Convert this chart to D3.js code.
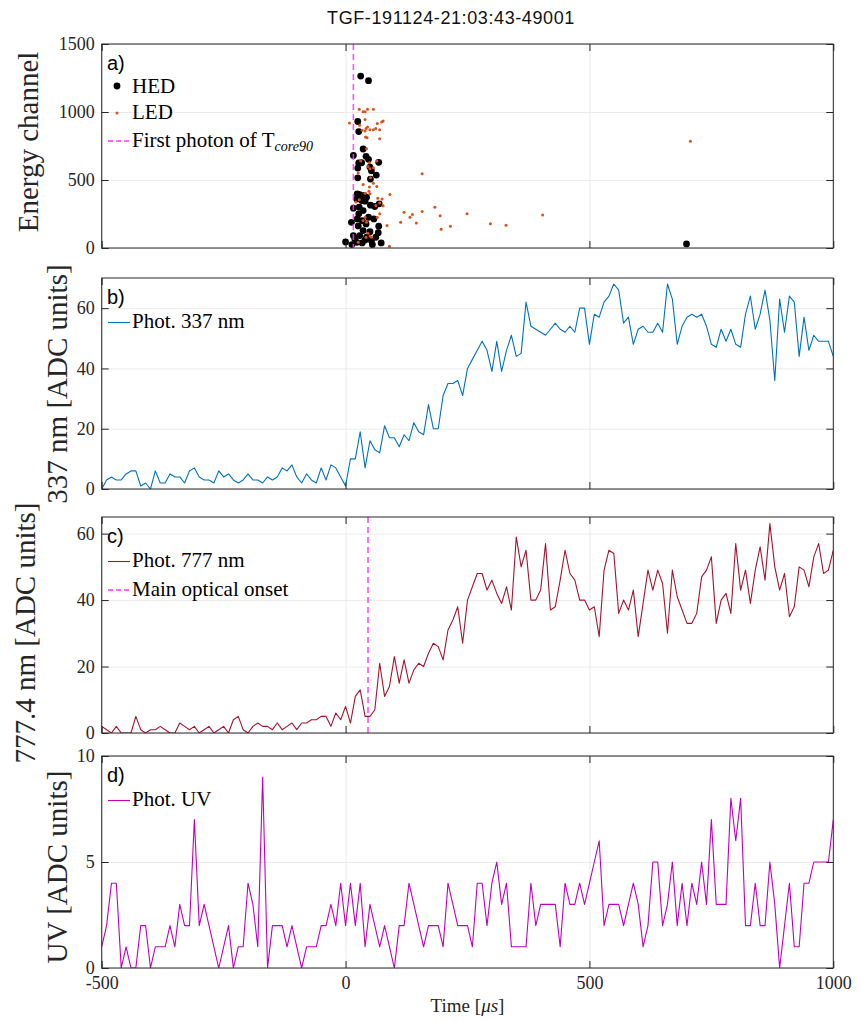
<!DOCTYPE html>
<html>
<head>
<meta charset="utf-8">
<script src="https://cdn.jsdelivr.net/npm/d3@7"></script>
<style>
  body { margin: 0; background: #fff; }
  svg { display: block; }
</style>
</head>
<body>
<div id="chart"></div>
<script>
// sample times of the photometer traces [us]
const time = [
  -500,-490,-480,-470,-460,-450,-440,-430,-420,-410,
  -400,-390,-380,-370,-360,-350,-340,-330,-320,-310,
  -300,-290,-280,-270,-260,-250,-240,-230,-220,-210,
  -200,-190,-180,-170,-160,-150,-140,-130,-120,-110,
  -100,-90,-80,-70,-60,-50,-40,-30,-20,-10,
  0,10,20,30,40,50,60,70,80,90,
  100,110,120,130,140,150,160,170,180,190,
  200,210,220,230,240,250,260,270,280,290,
  300,310,320,330,340,350,360,370,380,390,
  400,410,420,430,440,450,460,470,480,490,
  500,510,520,530,540,550,560,570,580,590,
  600,610,620,630,640,650,660,670,680,690,
  700,710,720,730,740,750,760,770,780,790,
  800,810,820,830,840,850,860,870,880,890,
  900,910,920,930,940,950,960,970,980,990,
  1000
];

const phot337 = [
  0,3,4,3,3,5,6,6,1,2,
  0,6,2,2,5,4,4,2,6,7,
  4,3,3,2,6,4,5,3,2,3,
  5,3,3,2,4,3,4,7,6,8,
  4,2,5,3,2,7,3,8,7,4,
  1,10,10,19,7,16,13,12,21,17,
  17,14,18,16,22,19,18,28,20,20,
  31,35,35,36,31,40,43,46,49,46,
  39,49,39,46,51,44,45,62,54,53,
  52,51,53,55,53,52,54,52,60,60,
  48,58,57,62,64,68,66,55,57,48,
  53,54,52,52,55,52,68,63,48,54,
  57,58,57,58,54,48,47,53,49,53,
  48,47,58,64,53,58,66,56,36,63,
  52,64,62,44,57,46,51,49,49,49,
  44
];

const phot777 = [
  2,1,0,2,0,0,0,5,1,0,
  1,1,2,1,0,0,3,2,1,2,
  0,1,2,0,1,2,0,4,5,1,
  0,2,3,2,2,1,3,1,2,3,
  1,3,3,4,4,5,5,2,6,4,
  8,3,11,13,5,5,7,21,11,14,
  23,15,22,15,19,21,20,24,27,26,
  22,31,34,38,27,40,44,48,48,43,
  46,42,39,44,37,59,50,55,40,40,
  43,57,37,38,46,55,48,46,40,40,
  37,38,29,49,55,54,36,40,37,43,
  29,39,49,43,49,45,30,49,41,37,
  33,33,36,47,49,53,33,40,42,36,
  57,43,49,39,49,56,46,63,50,43,
  48,35,38,50,49,44,53,57,48,49,
  55
];

const photUV = [
  1,2,4,4,0,1,0,0,2,2,
  0,1,1,1,2,1,3,2,2,7,
  2,3,2,1,0,1,2,0,1,1,
  4,3,1,9,0,2,2,2,1,2,
  1,0,1,1,1,2,2,3,2,4,
  2,4,2,4,1,3,2,1,2,1,
  0,2,2,4,3,2,1,2,2,2,
  1,4,3,2,2,2,1,4,4,2,
  4,5,3,4,1,1,1,1,4,2,
  3,3,3,3,1,4,3,3,4,3,
  4,5,6,2,3,3,3,2,3,4,
  3,1,2,5,5,2,3,5,2,4,
  2,4,3,5,3,7,3,3,3,8,
  6,8,2,2,4,2,2,5,3,0,
  2,4,1,1,4,4,5,5,5,5,
  7
];

// gamma-ray counts: arrival time [us] and energy channel
const hedTime = [31,47,25,27,36,16,42,47,27,33,68,50,53,25,63,25,51,24,29,38,
  43,23,33,40,51,60,69,16,28,36,27,47,58,24,34,12,42,26,68,36,
  16,50,67,29,43,53,0,13,34,55,73,23,19,40,62,699];
const hedEnergy = [1264,1230,930,856,728,681,674,652,625,627,630,595,568,588,536,516,507,398,393,386,
  374,361,349,344,315,305,325,293,300,275,251,226,214,214,202,189,177,162,160,128,
  91,120,113,91,79,54,44,25,37,25,37,42,66,59,79,30];

const ledTime = [28,36,40,45,57,8,29,40,65,74,77,45,42,50,57,62,70,34,40,41,
  44,70,43,31,49,64,46,50,57,26,51,57,36,49,64,48,40,50,91,66,
  75,70,62,77,21,28,40,65,70,85,36,43,46,50,42,90,26,53,120,137,
  132,113,145,157,157,183,194,196,215,249,297,329,404,707];
const ledEnergy = [1020,1001,1001,1020,1020,920,902,944,915,927,934,890,878,870,870,878,870,866,861,816,
  811,804,730,639,627,639,600,583,590,551,516,477,467,448,452,418,403,398,393,366,
  361,330,312,310,339,354,226,226,251,165,202,189,108,89,79,12,42,79,263,246,
  226,189,184,546,268,300,238,138,160,252,179,167,243,785];

const tcore90First = 16;   // first photon of T_core90 [us]
const opticalOnset = 46;   // main optical onset [us]

const timeTicks = [-500, 0, 500, 1000];
const energyTicks = [0, 500, 1000, 1500];
const adcTicks = [0, 20, 40, 60];
const uvTicks = [0, 5, 10];

const W = 860, H = 1021;
const serif = "'Liberation Serif', 'Times New Roman', serif";
const sans = "'Liberation Sans', Arial, Helvetica, sans-serif";
const axisColor = "#262626";

const svg = d3.select("#chart").append("svg")
  .attr("width", W)
  .attr("height", H);

const x = d3.scaleLinear().domain([-500, 1000]).range([101.7, 833.3]);
const [x0, x1] = x.range();

svg.append("text")
  .attr("x", 451).attr("y", 24)
  .attr("text-anchor", "middle")
  .style("font-family", sans)
  .style("font-size", "18px")
  .style("letter-spacing", "0.6px")
  .attr("fill", "#111")
  .text("TGF-191124-21:03:43-49001");

const panels = [
  { key: "a", top: 44, bottom: 248, domain: [0, 1500], ticks: energyTicks,
    label: "Energy channel", labelX: 38, labelY: 142 },
  { key: "b", top: 278, bottom: 489, domain: [0, 70], ticks: adcTicks,
    label: "337 nm [ADC units]", labelX: 67, labelY: 384,
    series: phot337, color: "#0072BD", name: "Phot. 337 nm" },
  { key: "c", top: 517, bottom: 733, domain: [0, 65], ticks: adcTicks,
    label: "777.4 nm [ADC units]", labelX: 35, labelY: 633,
    series: phot777, color: "#A2142F", name: "Phot. 777 nm" },
  { key: "d", top: 756, bottom: 968, domain: [0, 10], ticks: uvTicks,
    label: "UV [ADC units]", labelX: 67, labelY: 867,
    series: photUV, color: "#BF00BF", name: "Phot. UV" }
];

const onsetColor = "#ff33ff";

panels.forEach((p, pi) => {
  const y = d3.scaleLinear().domain(p.domain).range([p.bottom, p.top]);
  const g = svg.append("g");
  const h = p.bottom - p.top;

  // grid
  g.append("g")
    .attr("transform", `translate(0,${p.bottom})`)
    .call(d3.axisBottom(x).tickValues(timeTicks).tickSize(-h).tickFormat(""))
    .call(s => s.select(".domain").remove())
    .selectAll("line").attr("stroke", "#e6e6e6").attr("stroke-width", 0.8);
  g.append("g")
    .attr("transform", `translate(${x0},0)`)
    .call(d3.axisLeft(y).tickValues(p.ticks).tickSize(-(x1 - x0)).tickFormat(""))
    .call(s => s.select(".domain").remove())
    .selectAll("line").attr("stroke", "#e6e6e6").attr("stroke-width", 0.8);

  const clipId = "clip-" + p.key;
  svg.append("clipPath").attr("id", clipId)
    .append("rect").attr("x", x0).attr("y", p.top).attr("width", x1 - x0).attr("height", h);
  const plot = g.append("g").attr("clip-path", `url(#${clipId})`);

  if (p.key === "a") {
    plot.selectAll(".hed")
      .data(hedTime)
      .join("circle")
      .attr("class", "hed")
      .attr("cx", d => x(d))
      .attr("cy", (d, i) => y(hedEnergy[i]))
      .attr("r", 3.4)
      .attr("fill", "#000");
    plot.selectAll(".led")
      .data(ledTime)
      .join("circle")
      .attr("class", "led")
      .attr("cx", d => x(d))
      .attr("cy", (d, i) => y(ledEnergy[i]))
      .attr("r", 1.5)
      .attr("fill", "#D95319");
    plot.append("line")
      .attr("x1", x(tcore90First)).attr("x2", x(tcore90First))
      .attr("y1", p.top).attr("y2", p.bottom)
      .attr("stroke", onsetColor).attr("stroke-width", 1.6)
      .attr("stroke-dasharray", "6,4").attr("opacity", 0.85);
  } else {
    const line = d3.line().x((d, i) => x(time[i])).y(d => y(d));
    plot.append("path")
      .datum(p.series)
      .attr("d", line)
      .attr("fill", "none")
      .attr("stroke", p.color)
      .attr("stroke-width", 1.1)
      .attr("stroke-linejoin", "round");
    if (p.key === "c") {
      plot.append("line")
        .attr("x1", x(opticalOnset)).attr("x2", x(opticalOnset))
        .attr("y1", p.top).attr("y2", p.bottom)
        .attr("stroke", onsetColor).attr("stroke-width", 1.4)
        .attr("stroke-dasharray", "6,4");
    }
  }

  // frame
  g.append("rect")
    .attr("x", x0).attr("y", p.top)
    .attr("width", x1 - x0).attr("height", h)
    .attr("fill", "none").attr("stroke", axisColor).attr("stroke-width", 1);

  const styleAxis = s => {
    s.select(".domain").remove();
    s.selectAll("line").attr("stroke", axisColor);
    s.selectAll("text")
      .style("font-family", serif)
      .style("font-size", "18px")
      .attr("fill", axisColor);
  };

  g.append("g").attr("transform", `translate(${x0},0)`)
    .call(d3.axisLeft(y).tickValues(p.ticks).tickSizeInner(-7).tickSizeOuter(0)
      .tickPadding(7).tickFormat(d => String(d)))
    .call(styleAxis);
  g.append("g").attr("transform", `translate(${x1},0)`)
    .call(d3.axisRight(y).tickValues(p.ticks).tickSizeInner(-7).tickSizeOuter(0).tickFormat(""))
    .call(styleAxis);
  g.append("g").attr("transform", `translate(0,${p.top})`)
    .call(d3.axisTop(x).tickValues(timeTicks).tickSizeInner(-7).tickSizeOuter(0).tickFormat(""))
    .call(styleAxis);
  const last = pi === panels.length - 1;
  g.append("g").attr("transform", `translate(0,${p.bottom})`)
    .call(d3.axisBottom(x).tickValues(timeTicks).tickSizeInner(-7).tickSizeOuter(0)
      .tickPadding(8).tickFormat(last ? (d => String(d)) : ""))
    .call(styleAxis);

  // y label
  g.append("text")
    .attr("transform", `translate(${p.labelX},${p.labelY}) rotate(-90)`)
    .attr("text-anchor", "middle")
    .style("font-family", serif)
    .style("font-size", "29px")
    .attr("fill", axisColor)
    .text(p.label);

  // panel letter
  g.append("text")
    .attr("x", 107).attr("y", p.top + 25.5)
    .style("font-family", sans)
    .style("font-size", "20px")
    .attr("fill", "#000")
    .text(p.key + ")");

  // legend
  const leg = g.append("g").style("font-family", serif).style("font-size", "21px").attr("fill", "#000");
  const lx = 108, tx = 132;
  if (p.key === "a") {
    leg.append("circle").attr("cx", 117).attr("cy", 86).attr("r", 3.4).attr("fill", "#000");
    leg.append("text").attr("x", tx).attr("y", 92.5).text("HED");
    leg.append("circle").attr("cx", 117).attr("cy", 113).attr("r", 1.5).attr("fill", "#D95319");
    leg.append("text").attr("x", tx).attr("y", 119).text("LED");
    leg.append("line").attr("x1", lx).attr("x2", lx + 22).attr("y1", 141).attr("y2", 141)
      .attr("stroke", onsetColor).attr("stroke-width", 1.4).attr("stroke-dasharray", "5,3");
    const t = leg.append("text").attr("x", tx).attr("y", 146.5);
    t.append("tspan").text("First photon of T");
    t.append("tspan").attr("dy", 4).style("font-size", "14px").style("font-style", "italic").text("core90");
  } else {
    const base = p.top + 50;
    leg.append("line").attr("x1", lx).attr("x2", lx + 22).attr("y1", base - 5.5).attr("y2", base - 5.5)
      .attr("stroke", p.color).attr("stroke-width", 1.1);
    leg.append("text").attr("x", tx).attr("y", base).text(p.name);
    if (p.key === "c") {
      leg.append("line").attr("x1", lx).attr("x2", lx + 22).attr("y1", base + 23).attr("y2", base + 23)
        .attr("stroke", onsetColor).attr("stroke-width", 1.4).attr("stroke-dasharray", "5,3");
      leg.append("text").attr("x", tx).attr("y", base + 29).text("Main optical onset");
    }
  }
});

// x label
const xl = svg.append("text")
  .attr("x", (x0 + x1) / 2).attr("y", 1012)
  .attr("text-anchor", "middle")
  .style("font-family", serif)
  .style("font-size", "19px")
  .attr("fill", axisColor);
xl.append("tspan").text("Time [");
xl.append("tspan").style("font-style", "italic").text("\u03bcs");
xl.append("tspan").text("]");
</script>
</body>
</html>
